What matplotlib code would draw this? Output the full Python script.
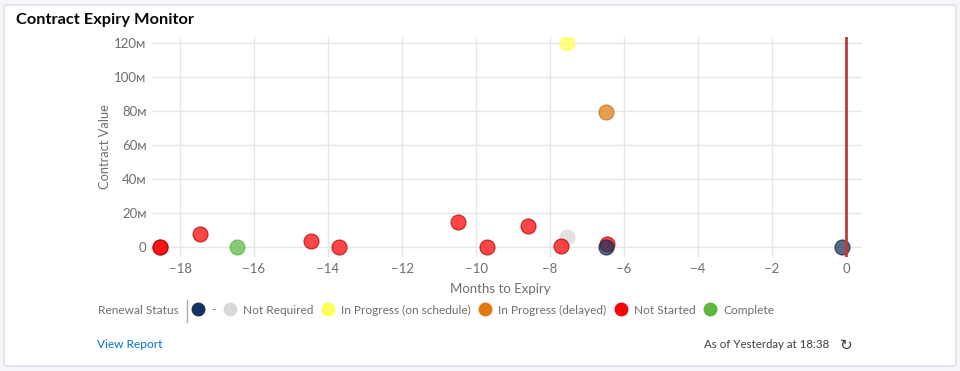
import matplotlib
matplotlib.use("Agg")
import matplotlib.pyplot as plt
from matplotlib.lines import Line2D
from matplotlib.patches import FancyBboxPatch
from matplotlib.ticker import FixedLocator, FuncFormatter

plt.rcParams['font.family'] = ['Lato', 'DejaVu Sans']

# ---- data ----
statuses = ["-", "Not Required", "In Progress (on schedule)", "In Progress (delayed)", "Not Started", "Complete"]
colors = ["#16325c", "#d8d8d8", "#ffff55", "#e07a10", "#ff0000", "#5cb840"]
edges = ["#0b1d38", "#d8d8d8", "#ffff55", "#c06a10", "#b00000", "#5cb840"]

months_dash = [-6.5, -0.1]
value_dash = [0.0, 0.0]
months_notreq = [-7.55]
value_notreq = [6.0]
months_onsched = [-7.55]
value_onsched = [120.0]
months_delayed = [-6.5]
value_delayed = [79.5]
months_notstarted = [-18.55, -18.55, -17.45, -14.45, -13.7, -10.5, -9.7, -8.6, -7.7, -6.45]
value_notstarted = [0.0, 0.0, 7.6, 3.5, 0.0, 14.7, 0.0, 12.4, 0.6, 1.8]
months_complete = [-16.45]
value_complete = [0.0]

series_months = [months_dash, months_notreq, months_onsched, months_delayed, months_notstarted, months_complete]
series_values = [value_dash, value_notreq, value_onsched, value_delayed, value_notstarted, value_complete]
draw_order = [1, 2, 3, 4, 5, 0]

x_ticks = [-18, -16, -14, -12, -10, -8, -6, -4, -2, 0]
y_ticks = [0, 20, 40, 60, 80, 100, 120]

W, H = 960, 371
fig = plt.figure(figsize=(W / 100, H / 100), dpi=100)
fig.patch.set_facecolor("#f4f6f9")

card = FancyBboxPatch((4 / W, 1 - 366 / H), 952 / W, 361 / H,
                      boxstyle="round,pad=0,rounding_size=0.004",
                      transform=fig.transFigure, facecolor="white",
                      edgecolor="#d8dde6", linewidth=1, zorder=-10)
fig.patches.append(card)

ax = fig.add_axes([152 / W, 1 - 257 / H, 710 / W, 220 / H])
ax.set_facecolor("none")
x_left = (152 - 846) / 37
x_right = (862 - 846) / 37
ax.set_xlim(x_left, x_right)
ax.set_ylim((247 - 257) / 1.7, (247 - 37) / 1.7)

for i in draw_order:
    ax.scatter(series_months[i], series_values[i], s=115, color=colors[i],
               alpha=0.72, edgecolors=edges[i], linewidths=0.9, zorder=3 + draw_order.index(i))

ax.axvline(0, color="#c23934", lw=2, zorder=20)

ax.xaxis.set_major_locator(FixedLocator(x_ticks))
ax.yaxis.set_major_locator(FixedLocator(y_ticks))
ax.yaxis.set_major_formatter(FuncFormatter(lambda v, p: "0" if v == 0 else f"{int(v)}ᴍ"))
ax.grid(True, color="#e6e6e6", lw=1, zorder=0)
for s in ax.spines.values():
    s.set_visible(False)
ax.tick_params(length=0, labelsize=9.5, labelcolor="#706e6b")
ax.tick_params(axis="y", pad=4)
ax.tick_params(axis="x", pad=4)
ax.set_xlabel("Months to Expiry", fontsize=9.5, color="#706e6b", labelpad=2)
ax.xaxis.set_label_coords(0.49, -0.12)
ax.set_ylabel("Contract Value", fontsize=9.3, color="#706e6b", labelpad=2)

fig.text(16 / W, 1 - 20 / H, "Contract Expiry Monitor", fontsize=11.8, fontweight="bold",
         color="#080707", va="center", ha="left")

# legend
fig.text(98 / W, 1 - 310 / H, "Renewal Status", fontsize=8.6, color="#706e6b", va="center", ha="left")
fig.add_artist(Line2D([187 / W, 187 / W], [1 - 300 / H, 1 - 322 / H], color="#b0adab", lw=1,
                      transform=fig.transFigure))
handles = [Line2D([], [], marker="o", ls="", markersize=9, markerfacecolor=c, markeredgecolor=c)
           for c in colors]
leg = fig.legend(handles, statuses, loc="center left", bbox_to_anchor=(193 / W, 1 - 310 / H),
                 ncol=6, frameon=False, fontsize=8.6, handlelength=0.9, handletextpad=0.65,
                 columnspacing=0.75, borderpad=0, borderaxespad=0)
for t in leg.get_texts():
    t.set_color("#706e6b")

fig.text(97 / W, 1 - 345 / H, "View Report", fontsize=8.6, color="#0070d2", va="center", ha="left")
fig.text(829 / W, 1 - 345 / H, "As of Yesterday at 18:38", fontsize=8.3, color="#3e3e3c",
         va="center", ha="right")
fig.text(846 / W, 1 - 345 / H, "↻", fontsize=11, color="#3e3e3c", va="center", ha="center",
         family=["DejaVu Sans"])

fig.savefig("out.png", dpi=100, facecolor=fig.get_facecolor())
